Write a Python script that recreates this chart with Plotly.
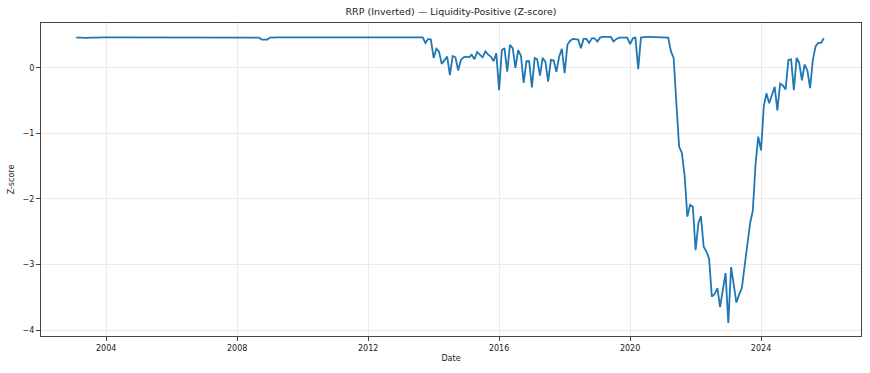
import pandas as pd
import plotly.graph_objects as go

# Monthly dates Feb 2003 .. Dec 2025
start_month = "2003-02-01"
n_months = 275
dates = pd.date_range(start_month, periods=n_months, freq="MS")

# Z-score values, one per month
zscore = [
    # 2003 Feb-Dec
    0.46, 0.465, 0.46, 0.455, 0.46, 0.465, 0.46, 0.46, 0.465, 0.465, 0.465,
    # 2004
    0.465, 0.465, 0.465, 0.465, 0.465, 0.465, 0.465, 0.465, 0.465, 0.465, 0.465, 0.465,
    # 2005
    0.465, 0.465, 0.465, 0.465, 0.465, 0.465, 0.465, 0.465, 0.465, 0.465, 0.465, 0.465,
    # 2006
    0.465, 0.465, 0.465, 0.465, 0.465, 0.465, 0.465, 0.465, 0.465, 0.465, 0.465, 0.465,
    # 2007
    0.465, 0.465, 0.465, 0.455, 0.465, 0.465, 0.465, 0.465, 0.465, 0.465, 0.465, 0.465,
    # 2008
    0.465, 0.465, 0.455, 0.455, 0.455, 0.465, 0.465, 0.465, 0.46, 0.43, 0.43, 0.43,
    # 2009
    0.46, 0.465, 0.465, 0.465, 0.465, 0.465, 0.465, 0.465, 0.465, 0.465, 0.465, 0.465,
    # 2010
    0.465, 0.465, 0.465, 0.465, 0.465, 0.465, 0.465, 0.465, 0.465, 0.465, 0.465, 0.465,
    # 2011
    0.465, 0.465, 0.465, 0.465, 0.465, 0.465, 0.465, 0.465, 0.465, 0.465, 0.465, 0.465,
    # 2012
    0.465, 0.465, 0.465, 0.465, 0.465, 0.465, 0.465, 0.465, 0.465, 0.465, 0.465, 0.465,
    # 2013
    0.465, 0.465, 0.465, 0.465, 0.465, 0.465, 0.465, 0.465, 0.465, 0.38, 0.44, 0.43,
    # 2014
    0.15, 0.29, 0.25, 0.06, 0.11, 0.17, -0.11, 0.18, 0.16, -0.04, 0.12, 0.16,
    # 2015
    0.17, 0.16, 0.20, 0.13, 0.24, 0.20, 0.16, 0.25, 0.20, 0.17, 0.10, 0.22,
    # 2016
    -0.34, 0.27, 0.30, -0.06, 0.35, 0.30, 0.00, 0.27, 0.18, -0.23, 0.10, 0.10,
    # 2017
    -0.30, 0.15, 0.13, -0.12, 0.15, 0.09, -0.21, 0.12, 0.11, -0.06, 0.17, 0.29,
    # 2018
    -0.08, 0.35, 0.41, 0.44, 0.43, 0.43, 0.30, 0.44, 0.44, 0.38, 0.45, 0.45,
    # 2019
    0.40, 0.46, 0.47, 0.47, 0.47, 0.47, 0.40, 0.44, 0.46, 0.46, 0.46, 0.46,
    # 2020
    0.36, 0.45, 0.46, -0.02, 0.46, 0.47, 0.47, 0.47, 0.47, 0.47, 0.47, 0.47,
    # 2021
    0.47, 0.46, 0.46, 0.25, 0.15, -0.55, -1.20, -1.30, -1.65, -2.27, -2.09, -2.12,
    # 2022
    -2.78, -2.37, -2.26, -2.73, -2.80, -2.91, -3.49, -3.45, -3.36, -3.65, -3.39, -3.13,
    # 2023
    -3.89, -3.04, -3.29, -3.58, -3.46, -3.36, -3.03, -2.65, -2.37, -2.18, -1.46, -1.05,
    # 2024
    -1.26, -0.58, -0.39, -0.54, -0.43, -0.29, -0.65, -0.24, -0.27, -0.33, 0.12, 0.13,
    # 2025
    -0.34, 0.15, 0.08, -0.19, 0.05, -0.04, -0.31, 0.12, 0.33, 0.38, 0.38, 0.45,
]

title_text = "RRP (Inverted) — Liquidity-Positive (Z-score)"
x_label = "Date"
y_label = "Z-score"
x_tick_vals = ["2004-01-01", "2008-01-01", "2012-01-01", "2016-01-01", "2020-01-01", "2024-01-01"]
x_tick_text = ["2004", "2008", "2012", "2016", "2020", "2024"]
y_tick_vals = [-4, -3, -2, -1, 0]

fig = go.Figure()
fig.add_trace(go.Scatter(
    x=dates[:len(zscore)], y=zscore, mode="lines",
    line=dict(color="#1f77b4", width=1.8),
    showlegend=False,
))

axis_common = dict(
    showline=True, mirror=True, linecolor="#444", linewidth=1,
    ticks="outside", ticklen=4, tickcolor="#444", tickwidth=1,
    showgrid=True, gridcolor="#ebebeb", gridwidth=1,
    zeroline=False,
    tickfont=dict(family="DejaVu Sans", size=8, color="#222"),
)

fig.update_layout(
    width=870, height=373,
    margin=dict(l=41, r=9, t=23, b=37),
    paper_bgcolor="white", plot_bgcolor="white",
    font=dict(family="DejaVu Sans", size=8, color="#222"),
    title=dict(text=title_text, x=451/870, xanchor="center",
               y=1 - 12/373, yanchor="middle", yref="container",
               font=dict(family="DejaVu Sans", size=9.5, color="#222")),
    xaxis=dict(range=["2002-01-04", "2027-01-20"], tickvals=x_tick_vals,
               ticktext=x_tick_text,
               title=dict(text=x_label, standoff=3,
                          font=dict(family="DejaVu Sans", size=8, color="#222")),
               **axis_common),
    yaxis=dict(range=[-4.09, 0.683], tickvals=y_tick_vals,
               title=dict(text=y_label, standoff=6,
                          font=dict(family="DejaVu Sans", size=8, color="#222")),
               **axis_common),
)

fig.write_html("out.html")
